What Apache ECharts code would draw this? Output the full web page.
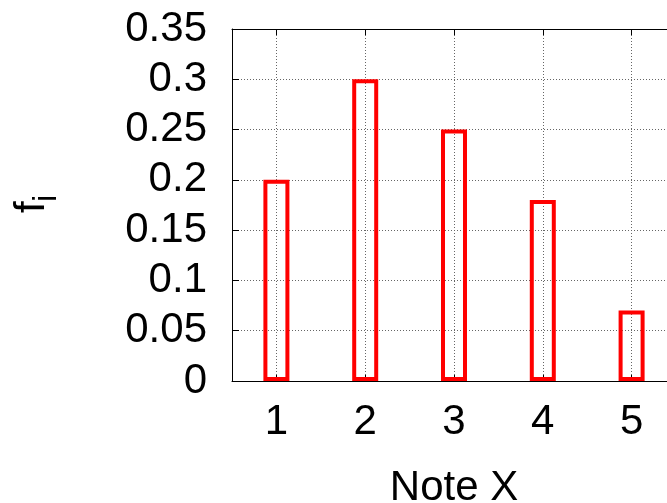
<!DOCTYPE html>
<html>
<head>
<meta charset="utf-8">
<script src="https://cdn.jsdelivr.net/npm/echarts@6/dist/echarts.min.js"></script>
<style>html,body{margin:0;padding:0;background:#fff;}#c{width:667px;height:503px;}</style>
</head>
<body>
<div id="c"></div>
<script>
var categories = [1, 2, 3, 4, 5];
var frequencies = [0.2, 0.3, 0.25, 0.18, 0.07];
var yTicks = [0, 0.05, 0.1, 0.15, 0.2, 0.25, 0.3, 0.35];

var FONT = 'Liberation Sans';
var FS = 42;
var chart = echarts.init(document.getElementById('c'), null, {renderer: 'canvas'});
var gridLine = {color: '#666', type: [1, 2], width: 1};
var option = {
  animation: false,
  backgroundColor: '#fff',
  grid: {left: 232, top: 29, width: 444, height: 352, containLabel: false, outerBoundsMode: 'none'},
  xAxis: [{
    type: 'value', min: 0.5, max: 5.5, position: 'bottom',
    name: 'Note X', nameLocation: 'middle', nameGap: 86,
    nameTextStyle: {fontFamily: FONT, fontSize: FS, color: '#000'},
    axisLine: {show: true, onZero: false, lineStyle: {color: '#000', width: 1}},
    axisTick: {show: true, inside: true, length: 6, customValues: categories, lineStyle: {color: '#000'}},
    axisLabel: {show: true, customValues: categories, margin: 20, fontFamily: FONT, fontSize: FS, color: '#000'},
    splitLine: {show: true, lineStyle: gridLine}
  }, {
    type: 'value', min: 0.5, max: 5.5, position: 'top',
    axisLine: {show: true, onZero: false, lineStyle: {color: '#000', width: 1}},
    axisTick: {show: true, inside: true, length: 6, customValues: categories, lineStyle: {color: '#000'}},
    axisLabel: {show: false},
    splitLine: {show: false}
  }],
  yAxis: {
    type: 'value', min: yTicks[0], max: yTicks[yTicks.length - 1], interval: 0.05,
    axisLine: {show: true, onZero: false, lineStyle: {color: '#000', width: 1}},
    axisTick: {show: true, inside: true, length: 7, lineStyle: {color: '#000'}},
    axisLabel: {margin: 25, fontFamily: FONT, fontSize: FS, color: '#000',
      formatter: function (v) { return String(Math.round(v * 100) / 100); }},
    splitLine: {show: true, lineStyle: gridLine}
  },
  graphic: [
    {type: 'text', x: 53, y: 213, rotation: Math.PI / 2, z: 10,
     style: {text: 'f', font: '42px "' + FONT + '"', fill: '#000', align: 'left', verticalAlign: 'bottom'}},
    {type: 'text', x: 63, y: 202, rotation: Math.PI / 2, z: 10,
     style: {text: 'i', font: '33px "' + FONT + '"', fill: '#000', align: 'left', verticalAlign: 'bottom'}}
  ],
  series: [{
    type: 'bar',
    xAxisIndex: 0,
    data: categories.map(function (c, i) { return [c, frequencies[i]]; }),
    barWidth: 26,
    itemStyle: {color: 'rgba(0,0,0,0)', borderColor: '#ff0000', borderWidth: 4},
    z: 5
  }]
};
chart.setOption(option);
</script>
</body>
</html>
